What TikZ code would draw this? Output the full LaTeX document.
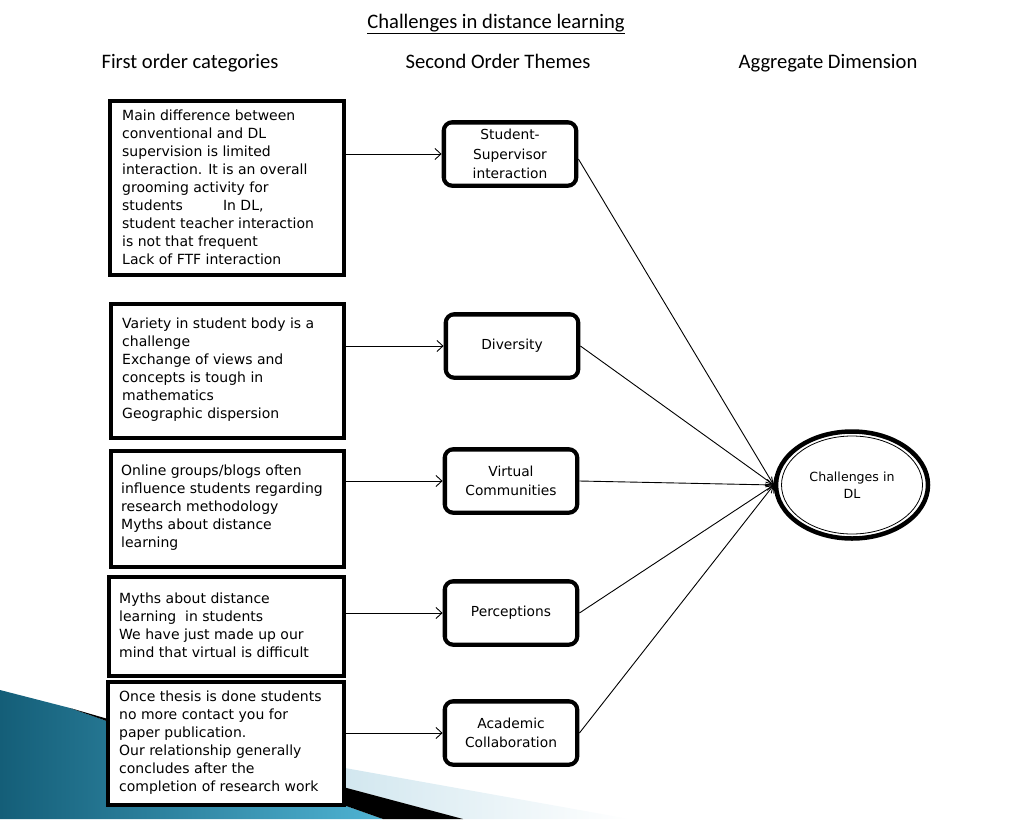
\documentclass[tikz,border=0pt]{standalone}
\usepackage{fontspec}
\setmainfont{DejaVu Sans}
\newfontfamily\calib{Carlito}
\usetikzlibrary{arrows.meta,shapes.geometric,calc}
\definecolor{tealA}{HTML}{145E78}
\definecolor{tealB}{HTML}{4FB3D3}
\definecolor{paleblue}{HTML}{C3DFEA}
\begin{document}
\begin{tikzpicture}[x=1pt,y=-1pt,
  lbox/.style={draw, fill=white, line width=2.8pt, rectangle, anchor=north west, inner sep=0pt},
  ltext/.style={anchor=west, align=left, inner sep=0pt, font=\fontsize{14}{18}\selectfont},
  mbox/.style={draw, fill=white, rounded corners=9pt, line width=3.8pt, minimum width=133pt, minimum height=64pt, align=center, inner sep=0pt, font=\fontsize{13.8}{19.5}\selectfont},
  head/.style={font=\calib\fontsize{20.6}{22}\selectfont, inner sep=0pt, anchor=base},
  arr/.style={-{Straight Barb[length=6pt,width=11pt]}, line width=0.9pt}
]
\useasboundingbox (0,0) rectangle (1024,819);
% decoration
\shade[left color=paleblue, right color=white] (250,751) -- (630,819) -- (463,819) -- (250,762) -- cycle;
\shade[left color=tealA, right color=tealB] (0,690) -- (70,708) -- (383,819) -- (0,819) -- cycle;
\fill[black] (70,708) -- (343,787) -- (463,819) -- (383,819) -- cycle;
% headings
\node[head] (title) at (496,28) {\underline{Challenges in distance learning}};
\node[head] (h1) at (190,68) {First order categories};
\node[head] (h2) at (498,68) {Second Order Themes};
\node[head] (h3) at (828,68) {Aggregate Dimension};
% left boxes
\node[lbox, minimum width=235pt, minimum height=175pt] (l1) at (108,99) {};
\node[lbox, minimum width=234pt, minimum height=135pt] (l2) at (109,302) {};
\node[lbox, minimum width=234pt, minimum height=117pt] (l3) at (109,449) {};
\node[lbox, minimum width=236pt, minimum height=100pt] (l4) at (107,575) {};
\node[lbox, minimum width=237pt, minimum height=124pt] (l5) at (106,680) {};
\foreach \n in {l1,l2,l3,l4,l5}
  \draw[line width=0.8pt] ([shift={(3.5pt,3.5pt)}]\n.south west) rectangle ([shift={(-3.5pt,-3.5pt)}]\n.north east);
\node[ltext] (t1) at ([xshift=14pt,yshift=1pt]l1.west) {Main difference between\\conventional and DL\\supervision is limited\\interaction. It is an overall\\grooming activity for\\students\hspace{40pt}In DL,\\student teacher interaction\\is not that frequent\\Lack of FTF interaction};
\node[ltext] (t2) at ([xshift=13pt,yshift=1pt]l2.west) {Variety in student body is a\\challenge\\Exchange of views and\\concepts is tough in\\mathematics\\Geographic dispersion};
\node[ltext] (t3) at ([xshift=12pt,yshift=1pt]l3.west) {Online groups/blogs often\\influence students regarding\\research methodology\\Myths about distance\\learning};
\node[ltext] (t4) at ([xshift=12pt,yshift=1pt]l4.west) {Myths about distance\\learning\ \ in students\\We have just made up our\\mind that virtual is difficult};
\node[ltext] (t5) at ([xshift=13pt,yshift=1pt]l5.west) {Once thesis is done students\\no more contact you for\\paper publication.\\Our relationship generally\\concludes after the\\completion of research work};
% middle boxes
\node[mbox] (m1) at (510,154) {Student-\\Supervisor\\interaction};
\node[mbox] (m2) at (512,346) {Diversity};
\node[mbox] (m3) at (511,481) {Virtual\\Communities};
\node[mbox] (m4) at (511,613) {Perceptions};
\node[mbox] (m5) at (511,733) {Academic\\Collaboration};
\foreach \n in {m1,m2,m3,m4,m5}
  \draw[line width=0.8pt, rounded corners=6pt] ([shift={(4pt,4pt)}]\n.south west) rectangle ([shift={(-4pt,-4pt)}]\n.north east);
% ellipse
\node[ellipse, draw, fill=white, line width=4.5pt, minimum width=152pt, minimum height=107pt, align=center, font=\fontsize{12.6}{17}\selectfont] (el) at (852,485) {Challenges in\\DL};
\draw[line width=0.8pt] (el.center) ellipse [x radius=70.5pt, y radius=49pt];
% connectors
\foreach \i in {1,...,5}
  \draw[arr] (l\i.east |- m\i.west) -- (m\i.west);
\draw[arr] ([yshift=-5pt]m1.east) -- (el.west);
\foreach \i in {2,...,5}
  \draw[arr] (m\i.east) -- (el.west);
\end{tikzpicture}
\end{document}
